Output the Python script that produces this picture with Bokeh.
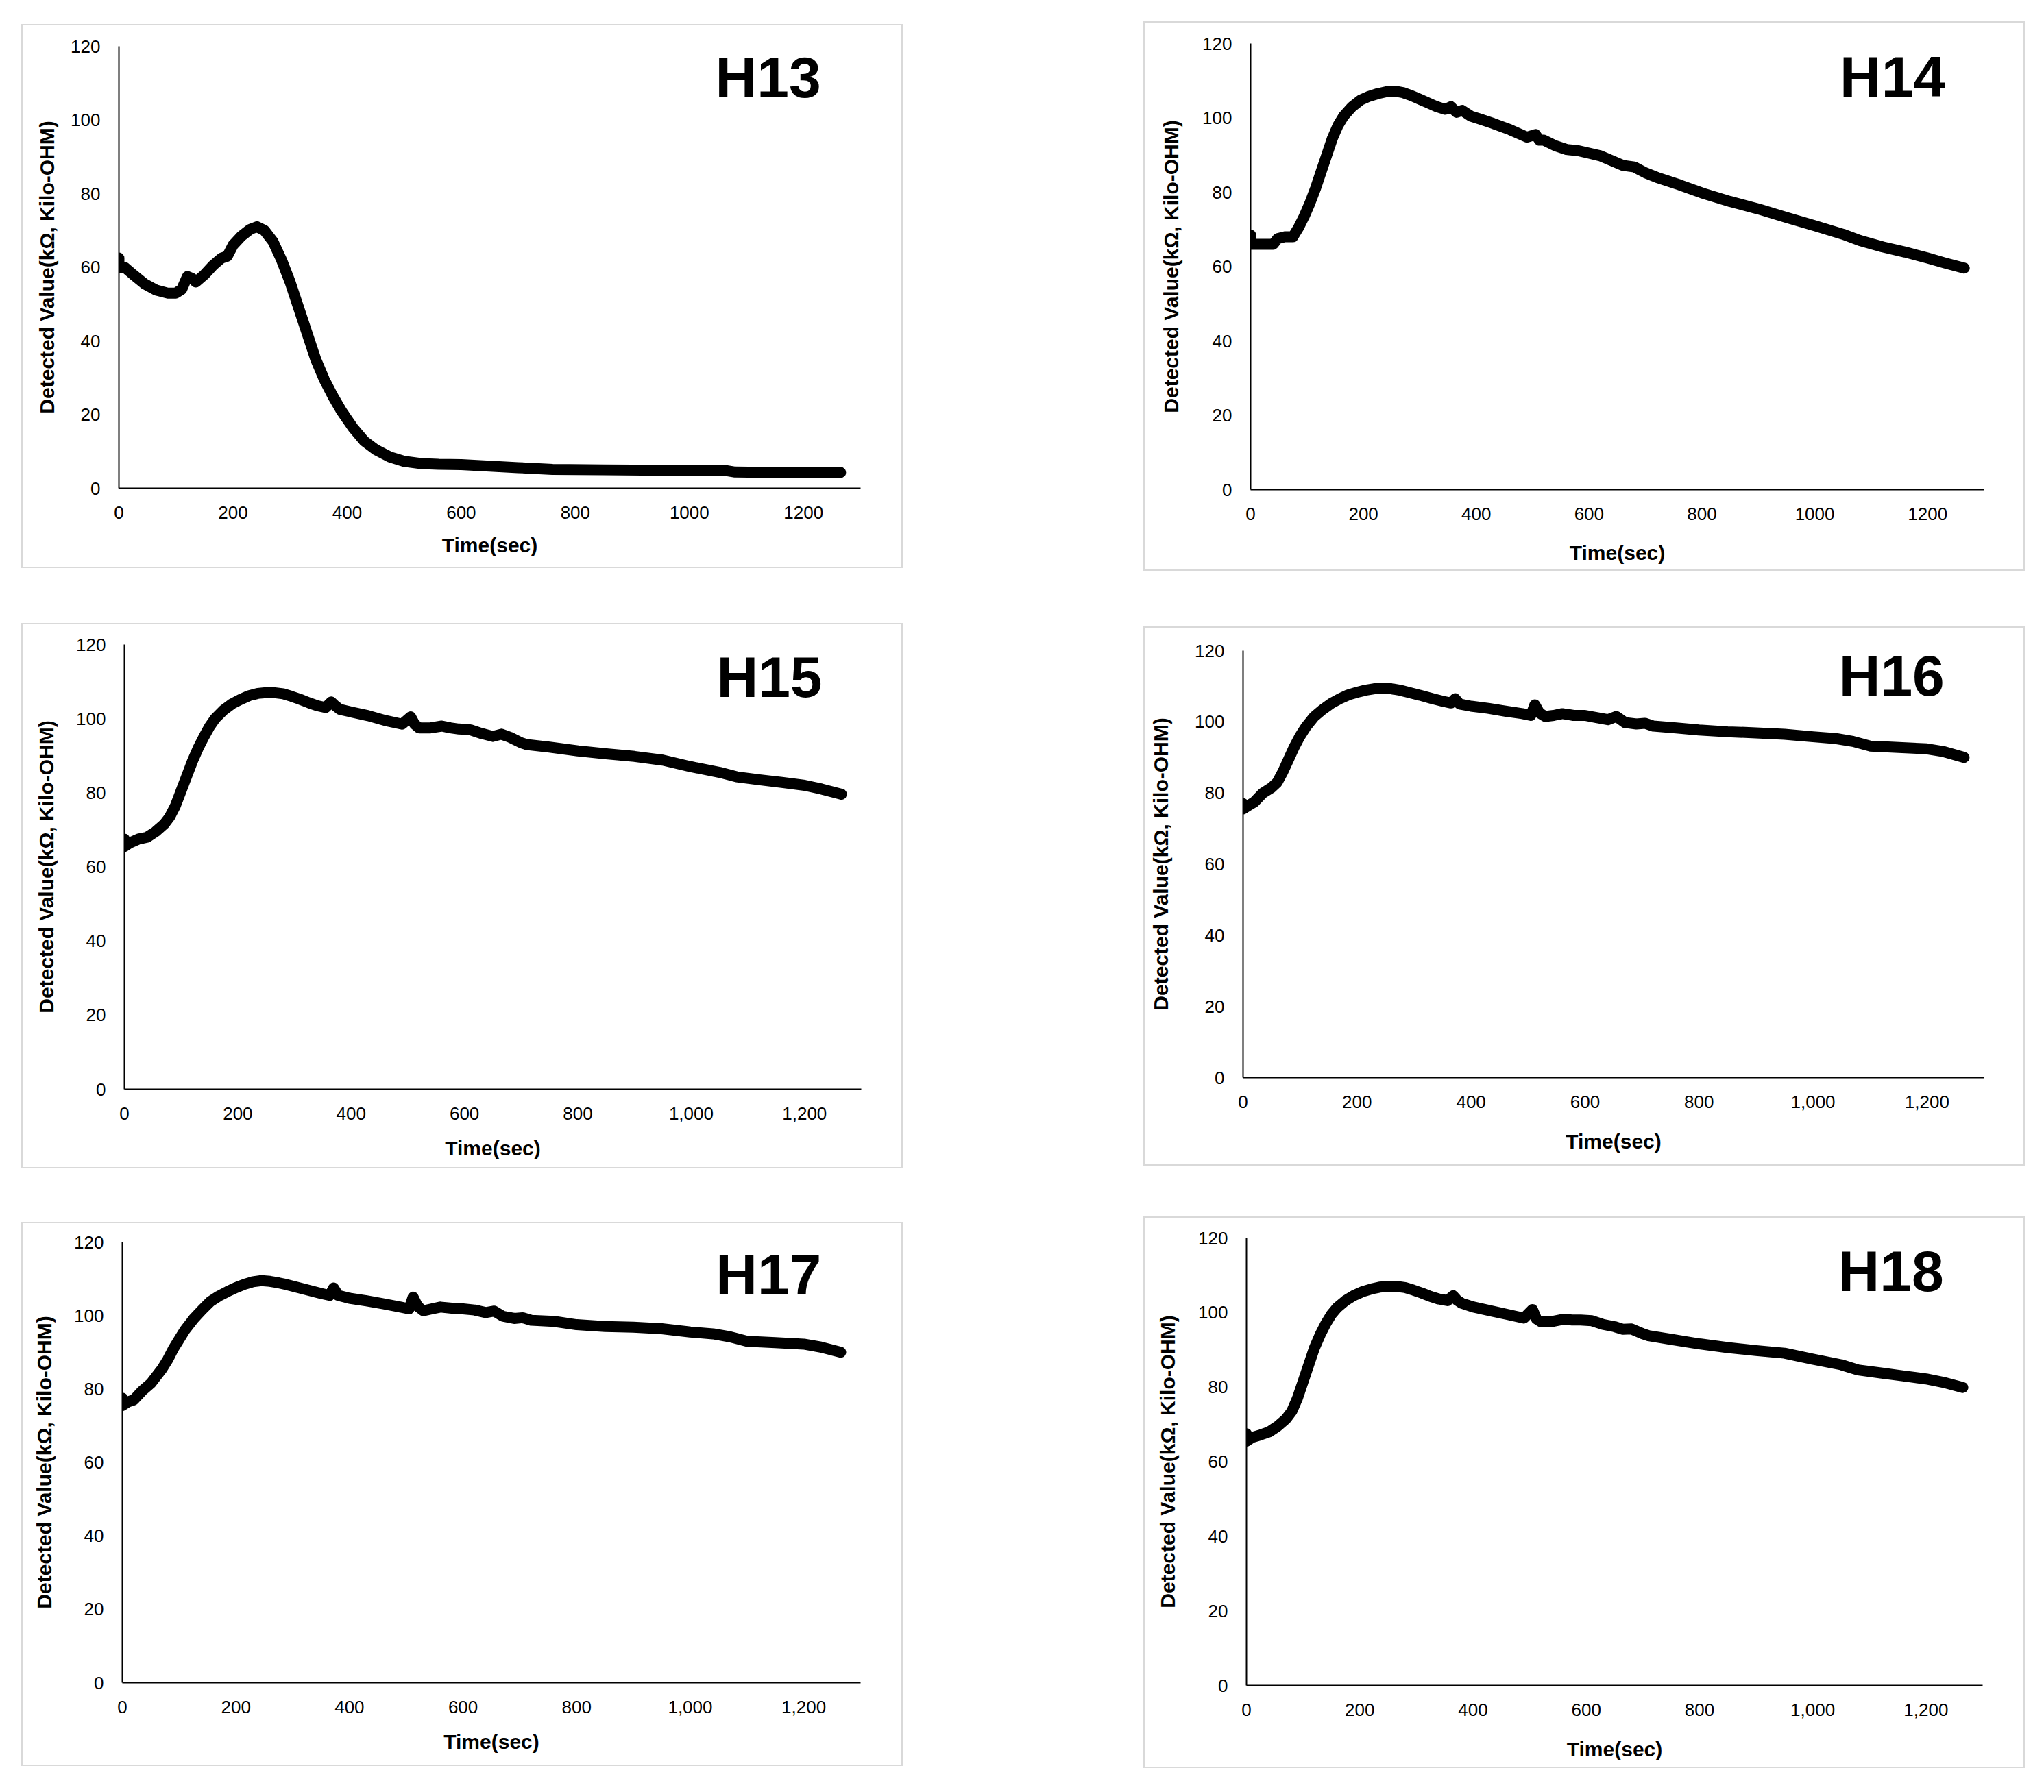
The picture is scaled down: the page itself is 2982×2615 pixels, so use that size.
from bokeh.plotting import figure
from bokeh.layouts import row, column
from bokeh.models import (Spacer, Range1d, FixedTicker, NumeralTickFormatter, BasicTickFormatter, Label)
from bokeh.embed import file_html
from bokeh.resources import INLINE

# ---------------- data ----------------
names = ["H13", "H14", "H15", "H16", "H17", "H18"]
x_title = "Time(sec)"
y_title = "Detected Value(kΩ, Kilo-OHM)"
x_ticks = [0, 200, 400, 600, 800, 1000, 1200]
y_ticks = [0, 20, 40, 60, 80, 100, 120]

h13_t = [0, 0, 10, 25, 45, 65, 85, 100, 110, 120, 128, 135, 150, 165, 180, 190, 200, 215, 230, 242, 255,
         270, 285, 300, 315, 330, 345, 360, 375, 390, 410, 430, 450, 475, 500, 530, 560, 600, 650, 700,
         760, 850, 950, 1060, 1080, 1150, 1265]
h13_v = [62.5, 60, 60, 58, 55.5, 53.8, 53, 53, 54, 57.5, 57, 56, 58, 60.5, 62.5, 63, 66, 68.5, 70.3, 71, 70,
         67, 62, 56, 49, 42, 35, 29.5, 25, 21, 16.5, 12.8, 10.5, 8.5, 7.3, 6.7, 6.5, 6.4, 6, 5.6,
         5.1, 5, 4.9, 4.9, 4.4, 4.3, 4.3]

h14_t = [0, 0, 10, 25, 40, 48, 60, 75, 85, 95, 105, 115, 125, 135, 145, 155, 165, 180, 195, 210, 225, 240,
         255, 270, 285, 300, 315, 330, 345, 355, 365, 375, 390, 410, 430, 460, 490, 505, 512, 520, 540, 560,
         580, 600, 620, 640, 660, 680, 700, 720, 760, 800, 850, 900, 950, 1000, 1050, 1080, 1120, 1160,
         1200, 1230, 1265]
h14_v = [68.5, 66, 66, 66, 66, 67.5, 68, 68, 70.5, 73.5, 77, 81, 85.5, 90, 94.5, 98, 100.5, 103, 104.8, 105.8,
         106.5, 107, 107.2, 106.8, 106, 105, 104, 103, 102.3, 103, 101.5, 102, 100.5, 99.5, 98.5, 96.8, 94.8,
         95.5, 94, 94, 92.5, 91.5, 91.2, 90.5, 89.8, 88.5, 87.2, 86.8, 85.2, 84, 82, 79.8, 77.5, 75.5, 73.2,
         71, 68.7, 67, 65.3, 63.9, 62.3, 61, 59.6]

h15_t = [0, 0, 10, 25, 40, 55, 70, 80, 90, 100, 110, 120, 130, 140, 150, 160, 175, 190, 205, 220, 235, 250,
         265, 280, 295, 310, 325, 340, 355, 365, 372, 380, 400, 430, 460, 490, 505, 512, 520, 540, 560, 575,
         590, 610, 630, 650, 665, 680, 700, 710, 750, 800, 850, 900, 950, 1000, 1050, 1080, 1120, 1160,
         1200, 1230, 1265]
h15_v = [67.5, 65.5, 66.5, 67.5, 68, 69.5, 71.5, 73.5, 76.5, 80.5, 84.5, 88.5, 92, 95, 97.8, 100, 102.3, 104,
         105.2, 106.2, 106.8, 107, 107, 106.7, 106, 105.2, 104.3, 103.5, 103, 104.5, 103.5, 102.5, 101.8,
         100.8, 99.5, 98.5, 100.5, 98.5, 97.5, 97.5, 98, 97.5, 97.2, 97, 96, 95.2, 95.8, 95, 93.5, 93,
         92.3, 91.3, 90.5, 89.8, 88.8, 87, 85.5, 84.3, 83.5, 82.8, 82, 81, 79.6]

h16_t = [0, 0, 10, 20, 35, 50, 60, 70, 80, 90, 100, 110, 125, 140, 155, 170, 185, 200, 215, 230, 245, 260,
         275, 290, 310, 330, 350, 365, 372, 380, 400, 430, 460, 490, 505, 512, 520, 530, 545, 560, 580, 600,
         620, 640, 655, 670, 690, 705, 720, 760, 800, 850, 900, 950, 1000, 1040, 1070, 1100, 1150, 1200,
         1230, 1265]
h16_v = [77, 75.5, 76.5, 77.5, 80, 81.5, 83, 86, 89.5, 93, 96, 98.5, 101.5, 103.5, 105.2, 106.5, 107.6, 108.3,
         108.9, 109.3, 109.5, 109.3, 108.9, 108.3, 107.5, 106.6, 105.8, 105.3, 106.5, 105, 104.4, 103.8, 103,
         102.3, 101.8, 104.8, 102.5, 101.5, 101.8, 102.3, 101.8, 101.8, 101.2, 100.6, 101.5, 99.8, 99.4,
         99.6, 98.8, 98.3, 97.7, 97.2, 96.9, 96.5, 95.8, 95.3, 94.5, 93.2, 92.8, 92.4, 91.6, 90]

h17_t = [0, 0, 10, 20, 35, 50, 60, 70, 80, 90, 100, 110, 125, 140, 155, 170, 185, 200, 215, 230, 245, 260,
         275, 290, 310, 330, 350, 365, 372, 380, 400, 430, 460, 490, 505, 512, 520, 530, 545, 560, 580, 600,
         620, 640, 655, 670, 690, 705, 720, 760, 800, 850, 900, 950, 1000, 1040, 1070, 1100, 1150, 1200,
         1230, 1265]
h17_v = [77.5, 75.5, 76.5, 77, 79.5, 81.5, 83.5, 85.5, 88, 91, 93.5, 96, 99, 101.5, 103.8, 105.3, 106.5, 107.6,
         108.5, 109.2, 109.5, 109.3, 108.9, 108.4, 107.6, 106.8, 106, 105.5, 107.5, 105.5, 104.7, 104, 103.2,
         102.3, 101.8, 105, 102.5, 101.3, 101.8, 102.3, 102, 101.8, 101.5, 100.8, 101.2, 99.8, 99.2, 99.4,
         98.7, 98.4, 97.5, 97, 96.8, 96.4, 95.5, 95, 94.2, 93, 92.6, 92.2, 91.4, 90]

h18_t = [0, 0, 10, 25, 40, 55, 70, 80, 90, 100, 110, 120, 130, 140, 150, 160, 175, 190, 205, 220, 235, 250,
         265, 280, 295, 310, 325, 340, 355, 365, 372, 380, 400, 430, 460, 490, 505, 512, 520, 540, 560, 575,
         590, 610, 630, 650, 665, 680, 700, 710, 750, 800, 850, 900, 950, 1000, 1050, 1080, 1120, 1160,
         1200, 1230, 1265]
h18_v = [67.5, 65.5, 66.5, 67.2, 68, 69.5, 71.5, 73.5, 77, 81.5, 86, 90.5, 94, 97, 99.5, 101.3, 103.2, 104.6,
         105.6, 106.3, 106.8, 107, 107, 106.7, 106, 105.2, 104.3, 103.6, 103.2, 104.5, 103.3, 102.5, 101.5,
         100.5, 99.5, 98.5, 100.8, 98.3, 97.5, 97.6, 98.2, 98, 98, 97.8, 96.8, 96.2, 95.5, 95.6, 94.3, 93.8,
         92.8, 91.6, 90.6, 89.8, 89.1, 87.5, 86, 84.6, 83.8, 83, 82.2, 81.3, 79.9]

series_t = [h13_t, h14_t, h15_t, h16_t, h17_t, h18_t]
series_v = [h13_v, h14_v, h15_v, h16_v, h17_v, h18_v]
comma_labels = [False, False, True, True, True, True]

# ---------------- layout geometry (page pixels) ----------------
geom = [
    dict(box=(31, 35, 1317, 829), ax=(173, 67, 1255, 712), ylab=102, xlab=72, ty=111.6),
    dict(box=(1668, 31, 2954, 833), ax=(1824, 63, 2894, 714), ylab=113, xlab=81, ty=111.0),
    dict(box=(31, 909, 1317, 1705), ax=(181, 940, 1256, 1589), ylab=111, xlab=75, ty=111.3),
    dict(box=(1668, 914, 2954, 1701), ax=(1813, 949, 2894, 1572), ylab=117, xlab=82, ty=113.0),
    dict(box=(31, 1783, 1317, 2577), ax=(178, 1812, 1255, 2455), ylab=111, xlab=75, ty=111.2),
    dict(box=(1668, 1775, 2954, 2580), ax=(1818, 1806, 2892, 2459), ylab=112, xlab=82, ty=111.1),
]
ORIGIN = 0
BW = 2                # panel border width
BORDER = "#d9d9d9"
FONT = "Liberation Sans"


def make_panel(i):
    g = geom[i]
    l, t, r, b = g["box"]
    l, t, r, b = l + BW, t + BW, r - BW, b - BW
    yx, ft, xe, xy = g["ax"]
    W, H = r - l, b - t
    p = figure(width=W, height=H, output_backend="svg", toolbar_location=None,
               x_range=Range1d(0, 1300), y_range=Range1d(0, 120),
               min_border_left=yx - l, min_border_right=r - xe,
               min_border_top=ft - t, min_border_bottom=b - xy)
    p.background_fill_color = "white"
    p.border_fill_color = "white"
    p.outline_line_color = None
    p.xgrid.visible = False
    p.ygrid.visible = False

    for ax in (p.xaxis[0], p.yaxis[0]):
        ax.axis_line_color = "black"
        ax.axis_line_width = 2
        ax.major_tick_line_color = None
        ax.minor_tick_line_color = None
        ax.major_tick_out = 0
        ax.major_tick_in = 0
        ax.minor_tick_out = 0
        ax.major_label_text_font = FONT
        ax.major_label_text_font_size = "26px"
        ax.major_label_text_color = "black"
        ax.axis_label_text_font = FONT
        ax.axis_label_text_font_style = "bold"
        ax.axis_label_text_color = "black"

    p.xaxis[0].ticker = FixedTicker(ticks=x_ticks)
    p.yaxis[0].ticker = FixedTicker(ticks=y_ticks)
    p.xaxis[0].formatter = NumeralTickFormatter(format="0,0") if comma_labels[i] else BasicTickFormatter()

    p.xaxis[0].axis_label = x_title
    p.xaxis[0].axis_label_text_font_size = "30px"
    p.xaxis[0].major_label_standoff = 26
    p.xaxis[0].axis_label_standoff = g["xlab"] - 53

    p.yaxis[0].axis_label = y_title
    p.yaxis[0].axis_label_text_font_size = "30px"
    p.yaxis[0].major_label_standoff = 27
    p.yaxis[0].axis_label_standoff = g["ylab"] - 87

    p.line(series_t[i], series_v[i], line_color="black", line_width=16,
           line_cap="round", line_join="round")

    p.add_layout(Label(x=1138, y=g["ty"], text=names[i], text_font=FONT, text_font_style="bold",
                       text_font_size="84px", text_align="center", text_baseline="middle",
                       text_color="black"))

    # light grey frame around the whole chart, built from thin filled spacers
    st = {"background-color": BORDER}
    framed = column(
        Spacer(width=W + 2 * BW, height=BW, styles=st),
        row(Spacer(width=BW, height=H, styles=st), p, Spacer(width=BW, height=H, styles=st)),
        Spacer(width=W + 2 * BW, height=BW, styles=st),
    )
    return framed


panels = [make_panel(i) for i in range(6)]

left_col = column(Spacer(width=1, height=geom[0]["box"][1] - ORIGIN), panels[0],
                  Spacer(width=1, height=geom[2]["box"][1] - geom[0]["box"][3]), panels[2],
                  Spacer(width=1, height=geom[4]["box"][1] - geom[2]["box"][3]), panels[4])
right_col = column(Spacer(width=1, height=geom[1]["box"][1] - ORIGIN), panels[1],
                   Spacer(width=1, height=geom[3]["box"][1] - geom[1]["box"][3]), panels[3],
                   Spacer(width=1, height=geom[5]["box"][1] - geom[3]["box"][3]), panels[5])
layout = row(Spacer(width=geom[0]["box"][0] - ORIGIN, height=1), left_col,
             Spacer(width=geom[1]["box"][0] - geom[0]["box"][2], height=1), right_col)

open("out.html", "w").write(file_html(layout, INLINE))
